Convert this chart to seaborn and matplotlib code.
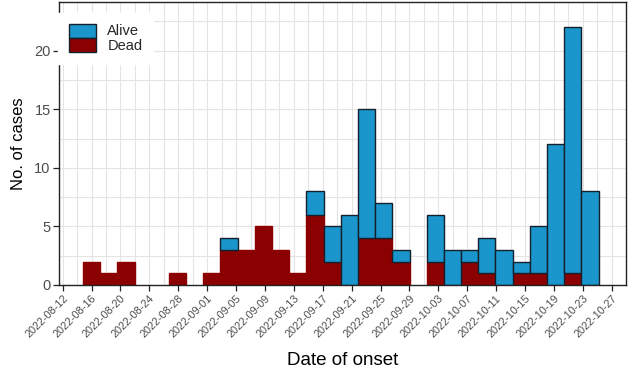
import matplotlib
matplotlib.use("Agg")
import matplotlib.pyplot as plt
import matplotlib.dates as mdates
import matplotlib.colors as mcolors
from matplotlib.patches import Patch
from matplotlib.ticker import FixedLocator, MultipleLocator
import numpy as np
import pandas as pd
import seaborn as sns

# ---- data ----
onset_dates = ["2022-08-16", "2022-08-18", "2022-08-21", "2022-08-23", "2022-08-26",
               "2022-08-28", "2022-08-30", "2022-09-02", "2022-09-04", "2022-09-06",
               "2022-09-09", "2022-09-11", "2022-09-14", "2022-09-16", "2022-09-18",
               "2022-09-21", "2022-09-23", "2022-09-25", "2022-09-28", "2022-09-30",
               "2022-10-03", "2022-10-05", "2022-10-07", "2022-10-10", "2022-10-12",
               "2022-10-14", "2022-10-17", "2022-10-19", "2022-10-22", "2022-10-24"]
alive = [0, 0, 0, 0, 0, 0, 0, 0, 1, 0, 0, 0, 0, 2, 3, 6, 11, 3, 1, 0,
         4, 3, 1, 3, 3, 1, 4, 12, 21, 8]
dead = [2, 1, 2, 0, 0, 1, 0, 1, 3, 3, 5, 3, 1, 6, 2, 0, 4, 4, 2, 0,
        2, 0, 2, 1, 0, 1, 1, 0, 1, 0]
status_levels = ["Alive", "Dead"]
tick_dates = ["2022-08-12", "2022-08-16", "2022-08-20", "2022-08-24", "2022-08-28",
              "2022-09-01", "2022-09-05", "2022-09-09", "2022-09-13", "2022-09-17",
              "2022-09-21", "2022-09-25", "2022-09-29", "2022-10-03", "2022-10-07",
              "2022-10-11", "2022-10-15", "2022-10-19", "2022-10-23", "2022-10-27"]

# ---- styling ----
sns.set_style("white")
plt.rcParams["font.family"] = ["Liberation Sans", "DejaVu Sans"]

ALIVE_C = "#1a96cc"
DEAD_C = "#8b0000"
EDGE_C = "#14202b"

x_num = mdates.date2num(pd.to_datetime(onset_dates))
df = pd.DataFrame({
    "x": np.concatenate([x_num, x_num]),
    "n": alive + dead,
    "status": ["Alive"] * len(alive) + ["Dead"] * len(dead),
})

nbins = 30
w = (x_num.max() - x_num.min()) / (nbins - 1)
binrange = (x_num.min() - w / 2, x_num.max() + w / 2)

fig = plt.figure(figsize=(6.34, 3.73), dpi=100)
ax = fig.add_axes([59 / 634, 88 / 373, 567 / 634, 283 / 373])

sns.histplot(data=df, x="x", weights="n", hue="status", hue_order=status_levels,
             multiple="stack", bins=nbins, binrange=binrange,
             palette={"Alive": ALIVE_C, "Dead": DEAD_C},
             edgecolor=EDGE_C, linewidth=1.0, alpha=1, legend=False, ax=ax)

dead_hex = mcolors.to_hex(DEAD_C)
for p in ax.patches:
    if p.get_height() <= 0:
        p.set_visible(False)
        continue
    if mcolors.to_hex(p.get_facecolor()) == dead_hex:
        p.set_edgecolor(DEAD_C)
        p.set_zorder(1.5)
    else:
        p.set_zorder(1.6)

# axes limits
t0 = mdates.date2num(pd.Timestamp(tick_dates[0]))
ax.set_xlim(t0 - 0.51, t0 + 77.98)
ax.set_ylim(0, 24.15)

# ticks
major = mdates.date2num(pd.to_datetime(tick_dates))
ax.xaxis.set_major_locator(FixedLocator(major))
ax.xaxis.set_minor_locator(FixedLocator(major[:-1] + 2))
ax.set_xticklabels(tick_dates, rotation=45, ha="right", rotation_mode="anchor",
                   fontsize=7.8, color="#4d4d4d")
ax.yaxis.set_major_locator(MultipleLocator(5))
ax.yaxis.set_minor_locator(MultipleLocator(2.5))
ax.tick_params(axis="y", labelsize=10.5, labelcolor="#4d4d4d")
ax.tick_params(which="major", direction="out", length=4, width=0.9, color="#222222",
               bottom=True, left=True, pad=2)
ax.tick_params(which="minor", length=0)

ax.grid(True, which="both", color="#e4e4e4", linewidth=0.8)
ax.set_axisbelow(True)
for s in ax.spines.values():
    s.set_color("#222222")
    s.set_linewidth(1.0)

ax.set_xlabel("Date of onset", fontsize=13.5, color="black", labelpad=9)
ax.set_ylabel("No. of cases", fontsize=12, color="black", labelpad=6)

handles = [Patch(facecolor=ALIVE_C, edgecolor=EDGE_C, linewidth=1.0, label="Alive"),
           Patch(facecolor=DEAD_C, edgecolor=EDGE_C, linewidth=1.0, label="Dead")]
leg = ax.legend(handles=handles, loc="upper left", bbox_to_anchor=(-0.001, 0.96),
                frameon=True, fontsize=10.5, handlelength=1.85, handleheight=1.1,
                labelspacing=0.0, handletextpad=0.8, borderpad=0.7,
                borderaxespad=0, fancybox=False)
leg.get_frame().set_facecolor("white")
leg.get_frame().set_edgecolor("white")
leg.get_frame().set_alpha(1)
leg.set_zorder(10)

fig.savefig("out.png", dpi=100)
